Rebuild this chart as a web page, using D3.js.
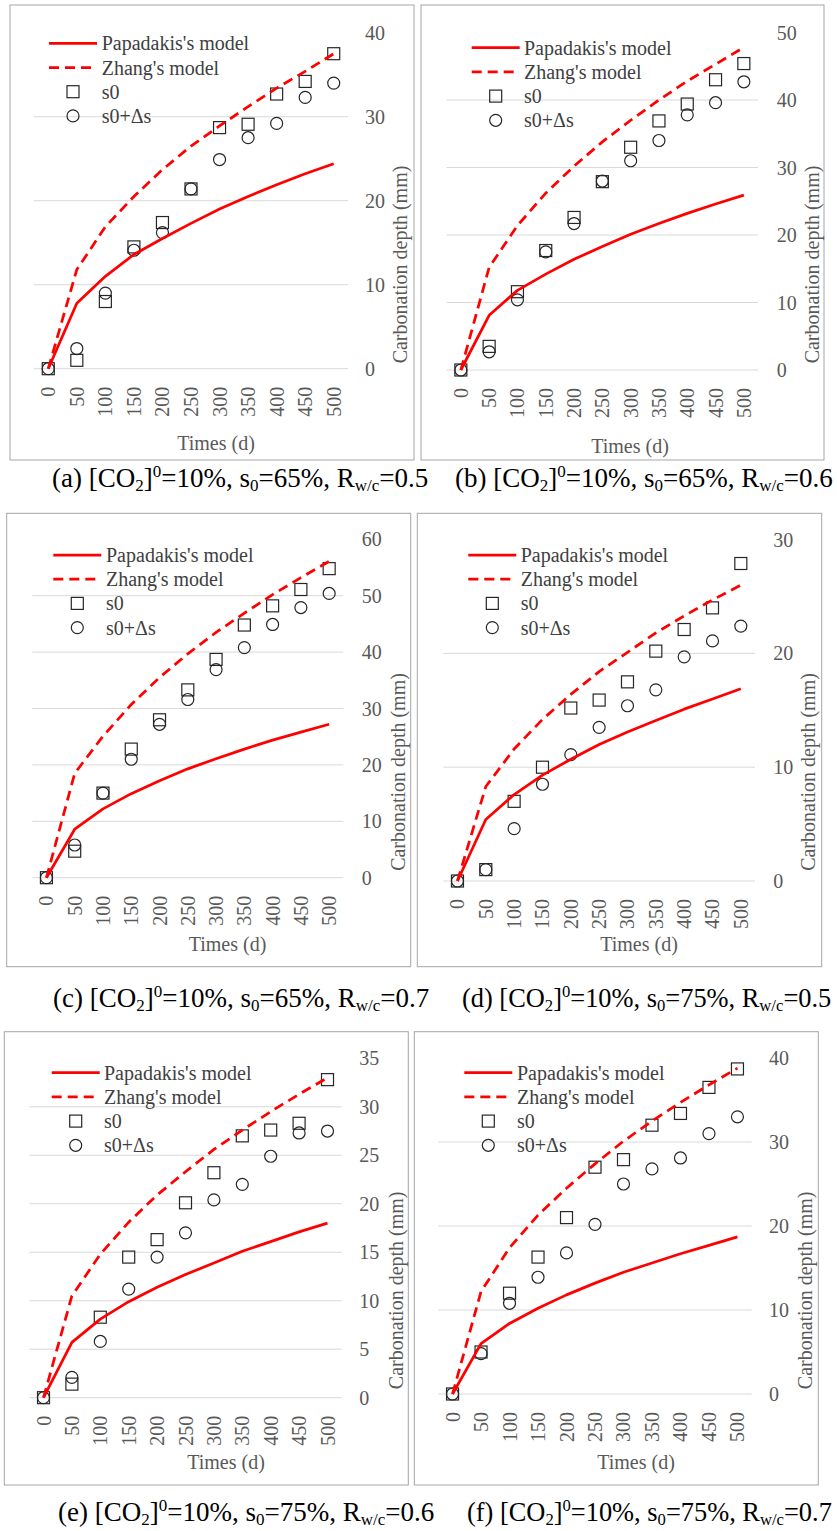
<!DOCTYPE html>
<html>
<head>
<meta charset="utf-8">
<script src="https://cdn.jsdelivr.net/npm/d3@7"></script>
<style>
  html, body { margin: 0; padding: 0; background: #fff; }
  svg { display: block; }
</style>
</head>
<body>
<svg id="chart" width="837" height="1531" font-family="'Liberation Serif', 'Times New Roman', 'DejaVu Serif', serif"></svg>
<script>
// ---------------- DATA ----------------
const times = [0, 50, 100, 150, 200, 250, 300, 350, 400, 450, 500];
const legendLabels = ["Papadakis's model", "Zhang's model", "s0", "s0+Δs"];
const xTitle = "Times (d)";
const yTitle = "Carbonation depth (mm)";

// (a)
const aPapadakis = [0, 7.8, 11.0, 13.6, 15.5, 17.3, 19.0, 20.5, 21.9, 23.2, 24.4];
const aZhang     = [0, 11.8, 16.9, 20.5, 23.7, 26.5, 28.9, 31.2, 33.4, 35.4, 37.5];
const aS0        = [0, 1.0, 8.0, 14.5, 17.4, 21.4, 28.7, 29.1, 32.7, 34.2, 37.5];
const aS0ds      = [0, 2.4, 9.0, 14.1, 16.2, 21.4, 24.9, 27.5, 29.2, 32.3, 34.0];
const aYTicks    = [0, 10, 20, 30, 40];
// (b)
const bPapadakis = [0, 8.1, 11.8, 14.2, 16.4, 18.3, 20.1, 21.7, 23.2, 24.6, 25.9];
const bZhang     = [0, 15.2, 21.4, 26.2, 30.2, 33.8, 37.0, 40.0, 42.8, 45.3, 47.8];
const bS0        = [0, 3.5, 11.6, 17.7, 22.6, 27.9, 33.0, 36.9, 39.4, 43.0, 45.4];
const bS0ds      = [0, 2.7, 10.4, 17.5, 21.7, 28.0, 31.0, 34.0, 37.8, 39.6, 42.7];
const bYTicks    = [0, 10, 20, 30, 40, 50];
// (c)
const cPapadakis = [0, 8.6, 12.2, 14.9, 17.2, 19.3, 21.1, 22.8, 24.4, 25.8, 27.2];
const cZhang     = [0, 18.5, 25.1, 30.7, 35.5, 39.7, 43.5, 46.9, 50.2, 53.2, 56.1];
const cS0        = [0, 4.7, 15.0, 22.8, 28.0, 33.3, 38.7, 44.8, 48.2, 51.1, 54.8];
const cS0ds      = [0, 5.8, 15.0, 21.0, 27.2, 31.6, 36.9, 40.8, 44.9, 47.9, 50.4];
const cYTicks    = [0, 10, 20, 30, 40, 50, 60];
// (d)
const dPapadakis = [0, 5.4, 7.6, 9.3, 10.7, 12.0, 13.1, 14.1, 15.1, 16.0, 16.9];
const dZhang     = [0, 8.3, 11.6, 14.2, 16.4, 18.4, 20.1, 21.8, 23.3, 24.7, 26.0];
const dS0        = [0, 1.0, 7.0, 10.0, 15.2, 15.9, 17.5, 20.2, 22.1, 24.0, 27.9];
const dS0ds      = [0, 1.0, 4.6, 8.5, 11.1, 13.5, 15.4, 16.8, 19.7, 21.1, 22.4];
const dYTicks    = [0, 10, 20, 30];
// (e)
const ePapadakis = [0, 5.7, 8.1, 9.9, 11.4, 12.7, 13.9, 15.1, 16.1, 17.1, 18.0];
const eZhang     = [0, 10.5, 14.8, 18.1, 20.9, 23.3, 25.6, 27.6, 29.5, 31.3, 33.0];
const eS0        = [0, 1.4, 8.3, 14.5, 16.3, 20.1, 23.2, 27.0, 27.6, 28.3, 32.8];
const eS0ds      = [0, 2.1, 5.8, 11.2, 14.5, 17.0, 20.4, 22.0, 24.9, 27.3, 27.5];
const eYTicks    = [0, 5, 10, 15, 20, 25, 30, 35];
// (f)
const fPapadakis = [0, 6.0, 8.4, 10.2, 11.8, 13.2, 14.5, 15.6, 16.7, 17.7, 18.7];
const fZhang     = [0, 12.2, 17.4, 21.3, 24.5, 27.4, 30.1, 32.5, 34.7, 36.8, 38.8];
const fS0        = [0, 5.0, 12.0, 16.3, 21.0, 27.0, 27.9, 32.0, 33.4, 36.5, 38.7];
const fS0ds      = [0, 4.8, 10.8, 13.9, 16.8, 20.2, 25.0, 26.8, 28.1, 31.0, 33.0];
const fYTicks    = [0, 10, 20, 30, 40];

// caption parts
const panelLetters = ["a", "b", "c", "d", "e", "f"];
const co2Values = ["10%", "10%", "10%", "10%", "10%", "10%"];
const s0Values = ["65%", "65%", "65%", "75%", "75%", "75%"];
const rwcValues = ["0.5", "0.6", "0.7", "0.5", "0.6", "0.7"];

const seriesByPanel = [
  [aPapadakis, aZhang, aS0, aS0ds, aYTicks],
  [bPapadakis, bZhang, bS0, bS0ds, bYTicks],
  [cPapadakis, cZhang, cS0, cS0ds, cYTicks],
  [dPapadakis, dZhang, dS0, dS0ds, dYTicks],
  [ePapadakis, eZhang, eS0, eS0ds, eYTicks],
  [fPapadakis, fZhang, fS0, fS0ds, fYTicks]
];

// ---------------- LAYOUT ----------------
const layout = [
  {box:[10,5,414,460],     gx:[34,348],     y0:368.7, yTop:32.7,  yl:365,   yt:400,   xt:216, xty:449.5, leg:[49,101.7,43.3],  cap:[52,487,27]},
  {box:[421,5,824,460],    gx:[446.7,758],  y0:370,   yTop:32.5,  yl:776.7, yt:811.7, xt:630, xty:452.5, leg:[471.7,524,47.7], cap:[455,487,27]},
  {box:[6.7,513.3,410.7,966.7], gx:[32.3,343.3], y0:877.7, yTop:539.3, yl:361.7, yt:398.3, xt:227.5, xty:951, leg:[53.3,106,555], cap:[53,1007,27]},
  {box:[417.3,513.3,821.7,966.7], gx:[443.3,755], y0:881, yTop:539.6, yl:773.3, yt:808.3, xt:639, xty:951, leg:[468.3,520.7,555], cap:[462,1007,26.4]},
  {box:[4.3,1031.7,408.3,1485], gx:[29.3,341.7], y0:1397.7, yTop:1058.3, yl:359.3, yt:396, xt:226, xty:1469, leg:[51.7,104,1072.7], cap:[58,1521,27]},
  {box:[414.3,1031.7,818.3,1485], gx:[438.3,751.7], y0:1394, yTop:1058, yl:769, yt:805, xt:636, xty:1469, leg:[464.3,517,1072.7], cap:[467,1521,26.4]}
];

const RED = "#ff0000";
const MARK = "#262626";
const FONT = "'Liberation Serif', 'Times New Roman', 'DejaVu Serif', serif";
const svg = d3.select("#chart");

layout.forEach((L, i) => {
  const [pap, zh, s0, s0ds, yTicks] = seriesByPanel[i];
  const g = svg.append("g").attr("font-family", FONT);

  // frame
  g.append("rect")
    .attr("x", L.box[0]).attr("y", L.box[1])
    .attr("width", L.box[2] - L.box[0]).attr("height", L.box[3] - L.box[1])
    .attr("fill", "#fff").attr("stroke", "#a6a6a6").attr("stroke-width", 1);

  const x = d3.scalePoint().domain(times).range(L.gx).padding(0.5);
  const yMax = yTicks[yTicks.length - 1];
  const y = d3.scaleLinear().domain([0, yMax]).range([L.y0, L.yTop]);

  // gridlines (all but top)
  g.append("g").selectAll("line")
    .data(yTicks.slice(0, -1))
    .join("line")
    .attr("x1", L.gx[0]).attr("x2", L.gx[1])
    .attr("y1", d => y(d)).attr("y2", d => y(d))
    .attr("stroke", "#d9d9d9").attr("stroke-width", 1);

  // y tick labels (right side)
  g.append("g").selectAll("text")
    .data(yTicks)
    .join("text")
    .attr("font-family", FONT)
    .attr("x", L.yl).attr("y", d => y(d))
    .attr("dy", "0.35em")
    .attr("font-size", 20).attr("fill", "#595959")
    .text(d => d);

  // x tick labels rotated
  g.append("g").selectAll("text")
    .data(times)
    .join("text")
    .attr("font-family", FONT)
    .attr("transform", d => `translate(${x(d)},${L.y0 + 18}) rotate(-90)`)
    .attr("text-anchor", "end").attr("dy", "0.35em")
    .attr("font-size", 20).attr("fill", "#595959")
    .text(d => d);

  // axis titles
  g.append("text")
    .attr("font-family", FONT)
    .attr("x", L.xt).attr("y", L.xty)
    .attr("text-anchor", "middle")
    .attr("font-size", 20).attr("fill", "#595959")
    .text(xTitle);
  g.append("text")
    .attr("font-family", FONT)
    .attr("transform", `translate(${L.yt + 7},${(L.box[1] + L.box[3]) / 2 + 32}) rotate(-90)`)
    .attr("text-anchor", "middle")
    .attr("font-size", 20).attr("fill", "#595959")
    .text(yTitle);

  // markers
  const pts = times.map((t, k) => ({t, v: s0[k]}));
  const pts2 = times.map((t, k) => ({t, v: s0ds[k]}));
  g.append("g").selectAll("rect")
    .data(pts).join("rect")
    .attr("x", d => x(d.t) - 6).attr("y", d => y(d.v) - 6)
    .attr("width", 12).attr("height", 12)
    .attr("fill", "none").attr("stroke", MARK).attr("stroke-width", 1.2);
  g.append("g").selectAll("circle")
    .data(pts2).join("circle")
    .attr("cx", d => x(d.t)).attr("cy", d => y(d.v)).attr("r", 6)
    .attr("fill", "none").attr("stroke", MARK).attr("stroke-width", 1.2);

  // lines
  const line = d3.line().x((d, k) => x(times[k])).y(d => y(d));
  g.append("path").datum(pap)
    .attr("d", line).attr("fill", "none")
    .attr("stroke", RED).attr("stroke-width", 2.75).attr("stroke-linejoin", "round");
  g.append("path").datum(zh)
    .attr("d", line).attr("fill", "none")
    .attr("stroke", RED).attr("stroke-width", 2.75).attr("stroke-dasharray", "10,6");

  // legend
  const [lx, tx, ly] = L.leg;
  const step = 24.2;
  const lg = g.append("g");
  lg.append("line").attr("x1", lx).attr("x2", lx + 48).attr("y1", ly).attr("y2", ly)
    .attr("stroke", RED).attr("stroke-width", 2.75);
  lg.append("line").attr("x1", lx).attr("x2", lx + 48).attr("y1", ly + step).attr("y2", ly + step)
    .attr("stroke", RED).attr("stroke-width", 2.75).attr("stroke-dasharray", "10,6");
  lg.append("rect").attr("x", lx + 24 - 6).attr("y", ly + 2 * step - 6)
    .attr("width", 12).attr("height", 12)
    .attr("fill", "none").attr("stroke", MARK).attr("stroke-width", 1.2);
  lg.append("circle").attr("cx", lx + 24).attr("cy", ly + 3 * step).attr("r", 6)
    .attr("fill", "none").attr("stroke", MARK).attr("stroke-width", 1.2);
  lg.selectAll("text").data(legendLabels).join("text")
    .attr("font-family", FONT)
    .attr("x", tx).attr("y", (d, k) => ly + k * step)
    .attr("dy", "0.35em")
    .attr("font-size", 20).attr("fill", "#404040")
    .text(d => d);

  // caption
  const fs = L.cap[2];
  const sfs = fs * 0.63;
  const cap = svg.append("text")
    .attr("font-family", FONT)
    .attr("x", L.cap[0]).attr("y", L.cap[1])
    .attr("font-size", fs).attr("fill", "#000");
  cap.append("tspan").text(`(${panelLetters[i]}) [CO`);
  cap.append("tspan").attr("font-size", sfs).attr("dy", 4).text("2");
  cap.append("tspan").attr("dy", -4).text("]");
  cap.append("tspan").attr("font-size", sfs).attr("dy", -10).text("0");
  cap.append("tspan").attr("dy", 10).text(`=${co2Values[i]}, s`);
  cap.append("tspan").attr("font-size", sfs).attr("dy", 4).text("0");
  cap.append("tspan").attr("dy", -4).text(`=${s0Values[i]}, R`);
  cap.append("tspan").attr("font-size", sfs).attr("dy", 4).text("w/c");
  cap.append("tspan").attr("dy", -4).text(`=${rwcValues[i]}`);
});
</script>
</body>
</html>
